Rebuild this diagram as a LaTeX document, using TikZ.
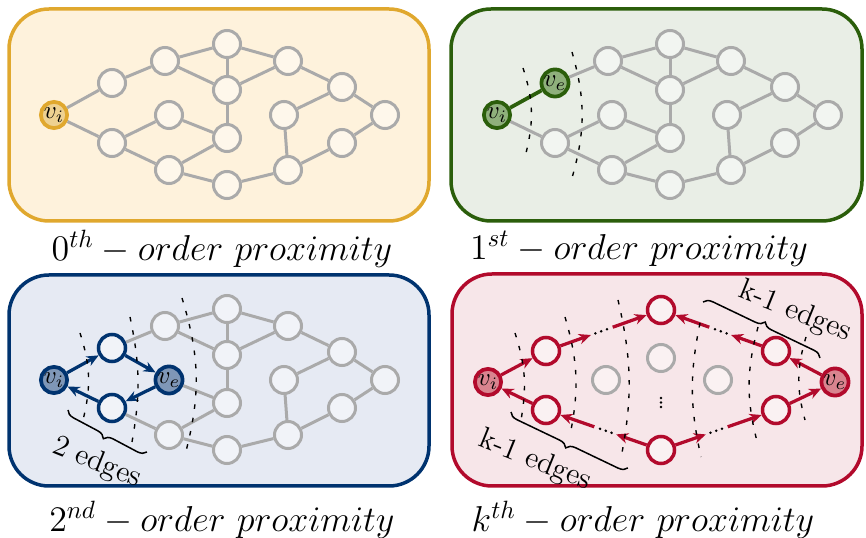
\documentclass[tikz,border=0pt]{standalone}
\usepackage{amsmath}
\usepackage{fontspec}
\usepackage{tikz}
\usetikzlibrary{
  arrows.meta,
  positioning,
  calc,
  decorations.pathreplacing
}
\definecolor{goldline}{HTML}{E0A82E}
\definecolor{goldbg}{HTML}{FEF2DC}
\definecolor{goldnode}{HTML}{EED190}
\definecolor{greenline}{HTML}{2B5E0B}
\definecolor{greenbg}{HTML}{E9EEE6}
\definecolor{greennode}{HTML}{8FB07C}
\definecolor{blueline}{HTML}{00336F}
\definecolor{bluebg}{HTML}{E6EAF3}
\definecolor{bluenode}{HTML}{7F97B7}
\definecolor{redline}{HTML}{B20A2C}
\definecolor{redbg}{HTML}{F7E6E9}
\definecolor{rednode}{HTML}{D9848F}
\definecolor{nodegrey}{HTML}{AAAAAA}

% shared graph (pixel coordinates)
\def\graphnodes{2/165/61, 3/227/44, 4/288/61, 5/227/90, 6/342/87, 7/385/115,
  10/227/138, 11/169/170, 12/227/185, 13/288/170, 14/284/115, 15/342/143}
\def\graphedges{1/2, 2/3, 3/4, 3/5, 2/5, 5/4, 4/6, 6/7, 6/14, 14/13, 7/15,
  15/13, 13/12, 12/11, 11/8, 9/10, 10/11, 10/5}

\begin{document}
\begin{tikzpicture}[
  x=0.4pt, y=-0.4pt,
  panel/.style={line width=1.4pt, rounded corners=16pt},
  gnode/.style={circle, draw=nodegrey, line width=1.2pt, fill=white, fill opacity=0.45,
    minimum size=10.8pt, inner sep=0pt},
  vnode/.style={circle, line width=1.5pt, minimum size=10.5pt, inner sep=0pt},
  gedge/.style={draw=nodegrey, line width=1.2pt},
  hop/.style={line width=0.55pt, dash pattern=on 1.8pt off 3.6pt},
  caption/.style={font=\fontsize{14}{16}\selectfont},
  >={Stealth[length=4.8pt, width=4.2pt]},
  bluearrow/.style={->, draw=blueline, line width=1.3pt},
  redarrow/.style={->, draw=redline, line width=1.3pt},
  brc/.style={decorate, decoration={brace, amplitude=3.5pt}, line width=0.6pt},
  brclbl/.style={font=\fontsize{12}{14}\selectfont, rotate=-22, inner sep=1pt},
]
  \useasboundingbox (0,0) rectangle (866,538);

  % 0th order
  \draw[panel, draw=goldline, fill=goldbg] (9,9) rectangle (429,221);
  \foreach \n/\x/\y in \graphnodes {\node[gnode] (A\n) at (\x,\y) {};}
  \foreach \n/\x/\y in {1/112/83, 8/112/143, 9/169/115} {\node[gnode] (A\n) at (\x,\y) {};}
  \node[vnode, draw=goldline, fill=goldnode] (Avi) at (54,115) {$v_i$};
  \foreach \a/\b in \graphedges {\draw[gedge] (A\a) -- (A\b);}
  \foreach \a/\b in {vi/1, vi/8, 8/9} {\draw[gedge] (A\a) -- (A\b);}
  \node[caption] (capA) at (222,249) {$0^{th} - order\ proximity$};

  % 1st order
  \draw[panel, draw=greenline, fill=greenbg] (451,9) rectangle (862,221);
  \begin{scope}[shift={(443,0)}]
    \foreach \n/\x/\y in \graphnodes {\node[gnode] (B\n) at (\x,\y) {};}
    \foreach \n/\x/\y in {8/112/143, 9/169/115} {\node[gnode] (B\n) at (\x,\y) {};}
    \node[vnode, draw=greenline, fill=greennode] (Bvi) at (54,115) {$v_i$};
    \node[vnode, draw=greenline, fill=greennode] (B1) at (112,83) {$v_e$};
    \foreach \a/\b in \graphedges {\draw[gedge] (B\a) -- (B\b);}
    \foreach \a/\b in {vi/8, 8/9} {\draw[gedge] (B\a) -- (B\b);}
    \draw[greenline, line width=1.5pt] (Bvi) -- (B1);
    \draw[hop] (80,68) to[bend left=16] (83,153);
    \draw[hop] (129,52) to[bend left=16] (129,178);
  \end{scope}
  \node[caption] (capB) at (639,249) {$1^{st} - order\ proximity$};

  % 2nd order
  \draw[panel, draw=blueline, fill=bluebg] (9,275) rectangle (429,486);
  \begin{scope}[shift={(0,265)}]
    \foreach \n/\x/\y in \graphnodes {\node[gnode] (C\n) at (\x,\y) {};}
    \node[gnode, draw=blueline, line width=1.4pt] (C1) at (112,83) {};
    \node[gnode, draw=blueline, line width=1.4pt] (C8) at (112,143) {};
    \node[vnode, draw=blueline, fill=bluenode] (Cvi) at (54,115) {$v_i$};
    \node[vnode, draw=blueline, fill=bluenode] (C9) at (169,115) {$v_e$};
    \foreach \a/\b in \graphedges {\draw[gedge] (C\a) -- (C\b);}
    \foreach \a/\b in {vi/1, 1/9, 9/8, 8/vi} {\draw[bluearrow] (C\a) -- (C\b);}
    \draw[hop] (80,68) to[bend left=16] (83,155);
    \draw[hop] (130,52) to[bend left=11] (132,177);
    \draw[hop] (182,33) to[bend left=16] (185,190);
    \draw[brc, decoration={mirror}] (68,145) -- (147,187);
    \node[brclbl] (lblC) at (97,198) {2 edges};
  \end{scope}
  \node[caption] (capC) at (222,520) {$2^{nd} - order\ proximity$};

  % kth order
  \draw[panel, draw=redline, fill=redbg] (452,274) rectangle (862,486);
  \node[vnode, draw=redline, fill=rednode] (Dvi) at (488,382) {$v_i$};
  \node[vnode, draw=redline, fill=rednode] (Dve) at (835,382) {$v_e$};
  \foreach \n/\x/\y in {a1/546/351, b1/546/410, c/661/310, d/661/450, a2/776/351, b2/776/410}
    {\node[gnode, draw=redline, line width=1.4pt] (D\n) at (\x,\y) {};}
  \foreach \n/\x/\y in {g1/606/380, g2/661/358, g3/718/380} {\node[gnode] (D\n) at (\x,\y) {};}
  \foreach \t in {398,402.5,407} {\fill (661,\t) circle (1.4);}
  \foreach \a/\b in {vi/a1, b1/vi, ve/a2, b2/ve} {\draw[redarrow] (D\a) -- (D\b);}
  \foreach \s/\t in {a1/c, a2/c, d/b1, d/b2} {
    \draw[redarrow] (D\s) -- ($(D\s)!0.39!(D\t)$);
    \foreach \f in {0.43,0.48,0.53} {\fill ($(D\s)!\f!(D\t)$) circle (1.4);}
    \draw[redarrow] ($(D\s)!0.58!(D\t)$) -- (D\t);
  }
  \draw[hop] (515,333) to[bend left=14] (521,420);
  \draw[hop] (565,317) to[bend left=14] (570,435);
  \draw[hop] (618,300) to[bend left=12] (621,458);
  \draw[hop] (700,323) to[bend right=12] (701,457);
  \draw[hop] (758,327) to[bend right=15] (758,445);
  \draw[hop] (806,337) to[bend right=16] (805,420);
  \draw[brc, decoration={mirror}] (511,412) -- (628,468);
  \node[brclbl] (lblD1) at (535,461) {k-1 edges};
  \draw[brc] (703,302) -- (820,358);
  \node[brclbl] (lblD2) at (795,312) {k-1 edges};
  \node[caption] (capD) at (643,520) {$k^{th} - order\ proximity$};
\end{tikzpicture}
\end{document}
